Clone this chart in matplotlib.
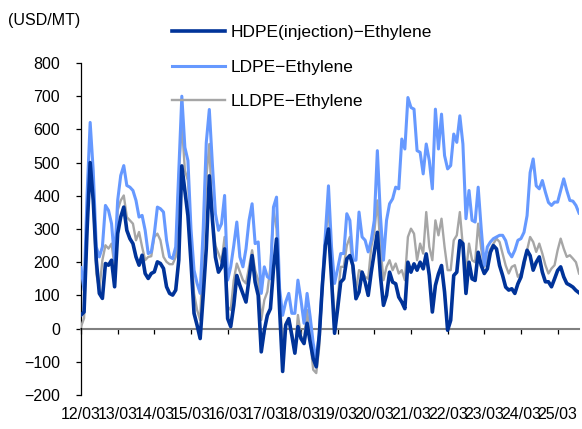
import matplotlib

matplotlib.use("Agg")
import matplotlib.pyplot as plt

plt.rcParams["font.family"] = ["Liberation Sans", "DejaVu Sans"]

# 월별 스프레드 (USD/MT), 2012/03 ~ 2025/10
hdpe = [
    41, 50, 300, 500, 386, 206, 106, 91, 196, 191, 206, 126,
    286, 336, 366, 296, 271, 256, 216, 191, 221, 166, 151, 166,
    171, 201, 196, 181, 126, 106, 101, 116, 206, 490, 416, 340,
    200, 46, 10, -30, 100, 240, 460, 330, 215, 170, 185, 240,
    30, 6, 70, 160, 130, 105, 80, 150, 220, 140, 100, -70,
    -5, 40, 60, 180, 270, 60, -129, 10, 30, -20, -74, 6,
    -30, -45, 16, -40, -90, -115, -20, 130, 250, 300, 150, -14,
    60, 140, 150, 210, 220, 190, 90, 110, 170, 140, 100, 170,
    230, 290, 160, 70, 100, 170, 140, 135, 95, 80, 60, 200,
    170, 195, 176, 200, 180, 225, 160, 50, 130, 165, 190, 110,
    -5, 25, 160, 170, 265, 256, 106, 200, 150, 145, 230, 190,
    166, 180, 230, 250, 240, 190, 160, 125, 116, 120, 106, 135,
    155, 200, 236, 220, 176, 200, 216, 170, 141, 141, 126, 150,
    175, 186, 156, 136, 131, 125, 115, 108,
]
ldpe = [
    184, 116, 406, 621, 476, 246, 216, 246, 371, 356, 316, 206,
    386, 461, 491, 431, 426, 416, 386, 336, 341, 296, 226, 231,
    286, 366, 361, 351, 266, 216, 211, 246, 476, 700, 546, 506,
    300, 176, 136, 106, 300, 560, 660, 496, 346, 296, 316, 401,
    146, 186, 250, 321, 216, 186, 240, 326, 376, 256, 261, 106,
    186, 156, 150, 366, 396, 120, 40, 80, 106, 46, 46, 146,
    86, 16, 106, 36, -44, -94, -14, 136, 286, 430, 246, 136,
    180, 226, 226, 346, 326, 206, 206, 351, 276, 266, 231, 266,
    326, 536, 340, 206, 326, 376, 391, 426, 421, 571, 541, 696,
    666, 661, 536, 531, 466, 556, 506, 421, 661, 541, 646, 521,
    481, 491, 586, 561, 641, 556, 331, 416, 326, 321, 426, 300,
    190, 246, 261, 271, 276, 281, 281, 265, 230, 216, 236, 266,
    271, 290, 340, 470, 511, 430, 421, 446, 411, 380, 371, 381,
    381, 416, 451, 416, 386, 384, 371, 348,
]
lldpe = [
    6, 31, 306, 501, 386, 166, 116, 206, 251, 241, 256, 186,
    356, 386, 401, 336, 326, 316, 266, 291, 246, 206, 216, 218,
    276, 286, 266, 216, 201, 194, 194, 216, 456, 620, 476, 446,
    276, 106, 56, 26, 250, 450, 556, 330, 250, 226, 201, 276,
    66, 56, 146, 196, 171, 146, 136, 186, 236, 176, 146, 26,
    86, 111, 186, 356, 300, 86, -34, 16, 31, -14, -74, 41,
    -24, -34, 56, -34, -124, -134, -54, 126, 266, 375, 186, 6,
    86, 186, 186, 250, 276, 166, 116, 176, 171, 156, 150, 246,
    290, 386, 246, 146, 186, 206, 176, 196, 166, 176, 146, 276,
    301, 286, 206, 256, 226, 351, 246, 206, 326, 281, 331, 246,
    176, 176, 266, 281, 351, 246, 166, 256, 206, 200, 316, 240,
    186, 210, 240, 256, 271, 261, 226, 190, 166, 186, 191, 156,
    166, 186, 236, 276, 261, 231, 256, 226, 191, 166, 181, 191,
    236, 271, 241, 216, 221, 211, 200, 166,
]
year_labels = ["12/03", "13/03", "14/03", "15/03", "16/03", "17/03", "18/03",
               "19/03", "20/03", "21/03", "22/03", "23/03", "24/03", "25/03"]
y_ticks = [-200, -100, 0, 100, 200, 300, 400, 500, 600, 700, 800]

fig = plt.figure(figsize=(5.82, 4.29), dpi=100)
ax = fig.add_axes([81 / 582, 1 - 395 / 429, 498 / 582, 332 / 429])

x = range(len(hdpe))
ax.plot(x, lldpe, color="#A6A6A6", linewidth=1.7, label="LLDPE\u2212Ethylene", zorder=3)
ax.plot(x, ldpe, color="#6699FF", linewidth=2.2, label="LDPE\u2212Ethylene", zorder=4)
ax.plot(x, hdpe, color="#003399", linewidth=2.6, label="HDPE(injection)\u2212Ethylene", zorder=5)

ax.set_xlim(0, len(hdpe) - 1)
ax.set_ylim(-200, 800)
ax.set_yticks(y_ticks)
ax.set_yticklabels([f"{v:d}".replace("-", "\u2212") for v in y_ticks])

# x축은 0선 위치, 라벨은 차트 하단
ax.spines["bottom"].set_position(("data", 0))
ax.spines["bottom"].set_color("#808080")
ax.spines["bottom"].set_linewidth(1.5)
ax.spines["bottom"].set_zorder(2)
ax.spines["top"].set_visible(False)
ax.spines["right"].set_visible(False)
ax.spines["left"].set_linewidth(0.9)
ax.set_xticks([12 * k for k in range(len(year_labels))])
ax.set_xticklabels(year_labels)
ax.tick_params(axis="x", direction="out", length=3.6, width=0.9, pad=53, labelsize=11.5)
ax.tick_params(axis="y", direction="out", length=3.6, width=0.9, pad=11.5, labelsize=11.5)

fig.text(8 / 582, 1 - 21 / 429, "(USD/MT)", fontsize=11.5, va="center", ha="left")

handles, labels = ax.get_legend_handles_labels()
ax.legend(
    handles[::-1],
    labels[::-1],
    loc="upper left",
    bbox_to_anchor=(172 / 582, 1 - 25 / 429),
    bbox_transform=fig.transFigure,
    frameon=False,
    fontsize=12.5,
    handlelength=3.05,
    handletextpad=0.3,
    labelspacing=1.12,
    borderpad=0,
    borderaxespad=0,
)

fig.savefig("out.png", dpi=100)
plt.close(fig)
